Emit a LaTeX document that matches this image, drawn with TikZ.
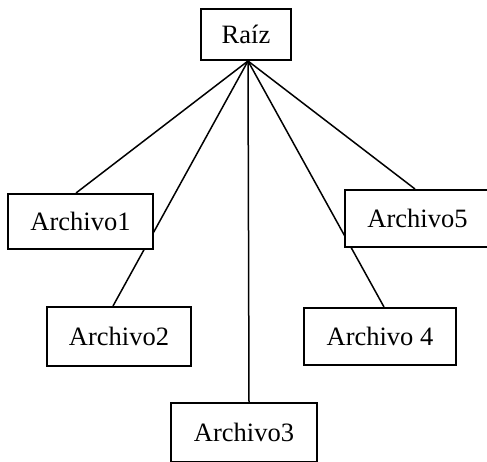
\documentclass[tikz,border=0pt]{standalone}
\usepackage{fontspec}
\setmainfont{Liberation Serif}
\usetikzlibrary{backgrounds}
\tikzset{
  filebox/.style={draw=black, fill=white, line width=2pt, rectangle,
    inner sep=0pt, font=\fontsize{26.5}{31}\selectfont},
  link/.style={draw=black, line width=1.5pt},
}
\begin{document}
\begin{tikzpicture}[x=1pt, y=-1pt]
  \useasboundingbox (0,0) rectangle (487,461);

  % root and file boxes (centres and sizes in pt, y measured downwards)
  \node[filebox, minimum width=90pt,  minimum height=51pt] (raiz) at (246,34.5)  {Raíz};
  \node[filebox, minimum width=145pt, minimum height=55pt] (a1)   at (80.5,221.5) {Archivo1};
  \node[filebox, minimum width=144pt, minimum height=59pt] (a2)   at (119,336.5)  {Archivo2};
  \node[filebox, minimum width=146pt, minimum height=59pt] (a3)   at (244,432.5)  {Archivo3};
  \node[filebox, minimum width=152pt, minimum height=57pt] (a4)   at (380,336.5)  {Archivo 4};
  \node[filebox, minimum width=145pt, minimum height=57pt] (a5)   at (417.5,218.5) {Archivo5\hspace{7pt}};

  \coordinate (hub) at ([xshift=2pt]raiz.south);

  % connectors run behind the boxes
  \begin{scope}[on background layer]
    \draw[link] (hub) -- ([xshift=-4.5pt]a1.north);
    \draw[link] (hub) -- ([xshift=-6pt]a2.north);
    \draw[link] (hub) -- ([xshift=5pt]a3.north);
    \draw[link] (hub) -- ([xshift=4pt]a4.north);
    \draw[link] (hub) -- ([xshift=-2.5pt]a5.north);
  \end{scope}
\end{tikzpicture}
\end{document}
